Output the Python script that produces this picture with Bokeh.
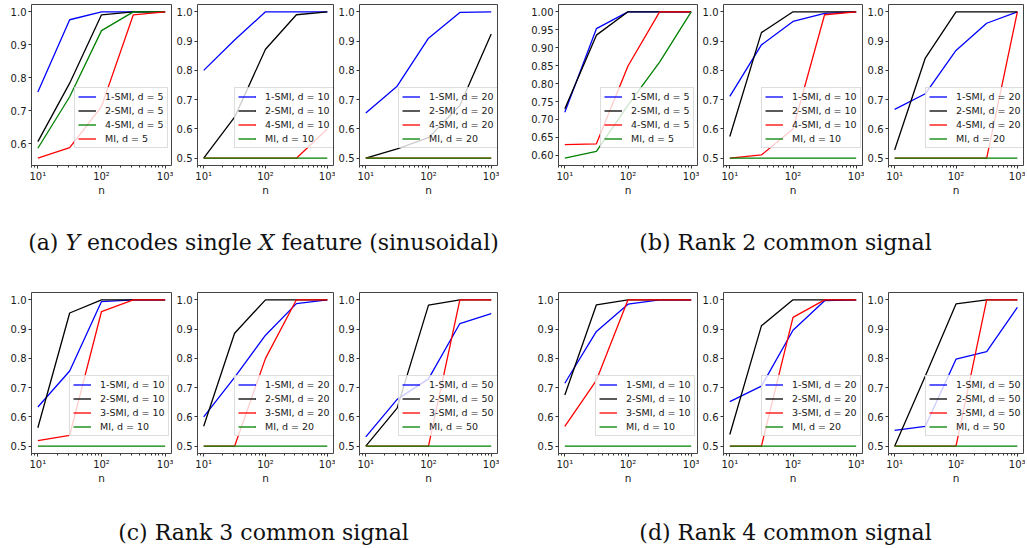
import math
from bokeh.plotting import figure
from bokeh.layouts import row, column
from bokeh.models import Range1d, FixedTicker, Legend, LegendItem, Div, PrintfTickFormatter
from bokeh.embed import file_html
from bokeh.resources import INLINE

# ---------------- data ----------------
n = [10, 31.62, 100, 316.2, 1000]
x_ticks = [10, 100, 1000]
x_tick_labels = ["10¹", "10²", "10³"]

# (a) Y encodes single X feature (sinusoidal)
a_d5_smi1 = [0.757, 0.976, 1.0, 1.0, 1.0]
a_d5_smi2 = [0.607, 0.784, 0.991, 1.0, 1.0]
a_d5_smi4 = [0.587, 0.743, 0.943, 1.0, 1.0]
a_d5_mi = [0.557, 0.589, 0.713, 0.991, 1.0]

a_d10_smi1 = [0.80, 0.904, 1.0, 1.0, 1.0]
a_d10_smi2 = [0.50, 0.64, 0.872, 0.99, 1.0]
a_d10_smi4 = [0.50, 0.50, 0.50, 0.50, 0.60]
a_d10_mi = [0.5, 0.5, 0.5, 0.5, 0.5]

a_d20_smi1 = [0.654, 0.746, 0.91, 0.998, 1.0]
a_d20_smi2 = [0.50, 0.532, 0.57, 0.68, 0.924]
a_d20_smi4 = [0.5, 0.5, 0.5, 0.5, 0.5]
a_d20_mi = [0.5, 0.5, 0.5, 0.5, 0.5]

# (b) Rank 2 common signal
b_d5_smi1 = [0.72, 0.953, 1.0, 1.0, 1.0]
b_d5_smi2 = [0.73, 0.935, 1.0, 1.0, 1.0]
b_d5_smi4 = [0.63, 0.632, 0.849, 1.0, 1.0]
b_d5_mi = [0.592, 0.611, 0.74, 0.86, 1.0]

b_d10_smi1 = [0.711, 0.887, 0.967, 0.995, 1.0]
b_d10_smi2 = [0.574, 0.929, 1.0, 1.0, 1.0]
b_d10_smi4 = [0.5, 0.511, 0.60, 0.99, 1.0]
b_d10_mi = [0.5, 0.5, 0.5, 0.5, 0.5]

b_d20_smi1 = [0.667, 0.72, 0.868, 0.961, 1.0]
b_d20_smi2 = [0.528, 0.842, 1.0, 1.0, 1.0]
b_d20_smi4 = [0.5, 0.5, 0.5, 0.5, 1.0]
b_d20_mi = [0.5, 0.5, 0.5, 0.5, 0.5]

# (c) Rank 3 common signal
c_d10_smi1 = [0.634, 0.757, 0.994, 1.0, 1.0]
c_d10_smi2 = [0.563, 0.955, 1.0, 1.0, 1.0]
c_d10_smi3 = [0.519, 0.537, 0.96, 1.0, 1.0]
c_d10_mi = [0.5, 0.5, 0.5, 0.5, 0.5]

c_d20_smi1 = [0.60, 0.735, 0.879, 0.987, 1.0]
c_d20_smi2 = [0.568, 0.886, 1.0, 1.0, 1.0]
c_d20_smi3 = [0.5, 0.5, 0.80, 1.0, 1.0]
c_d20_mi = [0.5, 0.5, 0.5, 0.5, 0.5]

c_d50_smi1 = [0.532, 0.66, 0.73, 0.919, 0.953]
c_d50_smi2 = [0.5, 0.63, 0.982, 1.0, 1.0]
c_d50_smi3 = [0.5, 0.5, 0.5, 1.0, 1.0]
c_d50_mi = [0.5, 0.5, 0.5, 0.5, 0.5]

# (d) Rank 4 common signal
d_d10_smi1 = [0.715, 0.892, 0.985, 1.0, 1.0]
d_d10_smi2 = [0.675, 0.983, 1.0, 1.0, 1.0]
d_d10_smi3 = [0.568, 0.725, 1.0, 1.0, 1.0]
d_d10_mi = [0.5, 0.5, 0.5, 0.5, 0.5]

d_d20_smi1 = [0.652, 0.705, 0.896, 0.997, 1.0]
d_d20_smi2 = [0.54, 0.911, 1.0, 1.0, 1.0]
d_d20_smi3 = [0.5, 0.5, 0.94, 1.0, 1.0]
d_d20_mi = [0.5, 0.5, 0.5, 0.5, 0.5]

d_d50_smi1 = [0.554, 0.568, 0.797, 0.823, 0.974]
d_d50_smi2 = [0.5, 0.74, 0.986, 1.0, 1.0]
d_d50_smi3 = [0.5, 0.5, 0.5, 1.0, 1.0]
d_d50_mi = [0.5, 0.5, 0.5, 0.5, 0.5]

yticks_a5 = [0.6, 0.7, 0.8, 0.9, 1.0]
yticks_b5 = [0.60, 0.65, 0.70, 0.75, 0.80, 0.85, 0.90, 0.95, 1.00]
yticks_std = [0.5, 0.6, 0.7, 0.8, 0.9, 1.0]

caption_a = ["(a) ", "Y", " encodes single ", "X", " feature (sinusoidal)"]
caption_b = "(b) Rank 2 common signal"
caption_c = "(c) Rank 3 common signal"
caption_d = "(d) Rank 4 common signal"

BLUE, BLACK, RED, GREEN = "#0000ff", "#000000", "#ff0000", "#008000"

top_panels = [
    (5, [("1-SMI", BLUE, a_d5_smi1), ("2-SMI", BLACK, a_d5_smi2), ("4-SMI", GREEN, a_d5_smi4), ("MI", RED, a_d5_mi)], yticks_a5, "%.1f"),
    (10, [("1-SMI", BLUE, a_d10_smi1), ("2-SMI", BLACK, a_d10_smi2), ("4-SMI", RED, a_d10_smi4), ("MI", GREEN, a_d10_mi)], yticks_std, "%.1f"),
    (20, [("1-SMI", BLUE, a_d20_smi1), ("2-SMI", BLACK, a_d20_smi2), ("4-SMI", RED, a_d20_smi4), ("MI", GREEN, a_d20_mi)], yticks_std, "%.1f"),
    (5, [("1-SMI", BLUE, b_d5_smi1), ("2-SMI", BLACK, b_d5_smi2), ("4-SMI", RED, b_d5_smi4), ("MI", GREEN, b_d5_mi)], yticks_b5, "%.2f"),
    (10, [("1-SMI", BLUE, b_d10_smi1), ("2-SMI", BLACK, b_d10_smi2), ("4-SMI", RED, b_d10_smi4), ("MI", GREEN, b_d10_mi)], yticks_std, "%.1f"),
    (20, [("1-SMI", BLUE, b_d20_smi1), ("2-SMI", BLACK, b_d20_smi2), ("4-SMI", RED, b_d20_smi4), ("MI", GREEN, b_d20_mi)], yticks_std, "%.1f"),
]
bottom_panels = [
    (10, [("1-SMI", BLUE, c_d10_smi1), ("2-SMI", BLACK, c_d10_smi2), ("3-SMI", RED, c_d10_smi3), ("MI", GREEN, c_d10_mi)], yticks_std, "%.1f"),
    (20, [("1-SMI", BLUE, c_d20_smi1), ("2-SMI", BLACK, c_d20_smi2), ("3-SMI", RED, c_d20_smi3), ("MI", GREEN, c_d20_mi)], yticks_std, "%.1f"),
    (50, [("1-SMI", BLUE, c_d50_smi1), ("2-SMI", BLACK, c_d50_smi2), ("3-SMI", RED, c_d50_smi3), ("MI", GREEN, c_d50_mi)], yticks_std, "%.1f"),
    (10, [("1-SMI", BLUE, d_d10_smi1), ("2-SMI", BLACK, d_d10_smi2), ("3-SMI", RED, d_d10_smi3), ("MI", GREEN, d_d10_mi)], yticks_std, "%.1f"),
    (20, [("1-SMI", BLUE, d_d20_smi1), ("2-SMI", BLACK, d_d20_smi2), ("3-SMI", RED, d_d20_smi3), ("MI", GREEN, d_d20_mi)], yticks_std, "%.1f"),
    (50, [("1-SMI", BLUE, d_d50_smi1), ("2-SMI", BLACK, d_d50_smi2), ("3-SMI", RED, d_d50_smi3), ("MI", GREEN, d_d50_mi)], yticks_std, "%.1f"),
]

# ---------------- layout constants ----------------
BORDER_TOP = 4
FRAME_H = 161
BORDER_BOTTOM = 38
FIG_H = BORDER_TOP + FRAME_H + BORDER_BOTTOM
BORDER_RIGHT = 2
left_borders = [31, 21, 21, 59, 23, 20]
frame_widths = [140, 139, 141, 139, 140, 139]
AXIS_COL = "#333333"
TEXT_COL = "#1a1a1a"


def make_panel(d, series, yticks, fmt, lb, fw):
    allv = [v for s in series for v in s[2]]
    lo, hi = min(allv), max(allv)
    pad = 0.05 * (hi - lo)
    lxlo, lxhi = math.log10(min(n)), math.log10(max(n))
    xp = 0.05 * (lxhi - lxlo)
    p = figure(width=lb + fw + BORDER_RIGHT, height=FIG_H, x_axis_type="log",
               x_range=Range1d(10 ** (lxlo - xp), 10 ** (lxhi + xp)),
               y_range=Range1d(lo - pad, hi + pad),
               output_backend="svg", toolbar_location=None,
               min_border_left=lb, min_border_right=BORDER_RIGHT,
               min_border_top=BORDER_TOP, min_border_bottom=BORDER_BOTTOM)
    p.grid.visible = False
    p.outline_line_color = "#444444"
    p.outline_line_width = 1
    p.background_fill_color = "white"
    p.border_fill_color = "white"

    items = []
    for label, color, vals in series:
        r = p.line(n, vals, line_color=color, line_width=1.3)
        items.append(LegendItem(label=f"{label}, d = {d}", renderers=[r]))

    for ax in p.axis:
        ax.axis_line_color = None
        ax.major_tick_out = 3
        ax.major_tick_in = 0
        ax.minor_tick_out = 2
        ax.minor_tick_in = 0
        ax.major_tick_line_color = AXIS_COL
        ax.minor_tick_line_color = AXIS_COL
        ax.major_label_text_font = "DejaVu Sans"
        ax.major_label_text_font_size = "10px"
        ax.major_label_text_color = TEXT_COL
        ax.major_label_standoff = 2

    minor = [m * 10 ** e for e in range(0, 4) for m in range(2, 10)]
    p.xaxis.ticker = FixedTicker(ticks=x_ticks, minor_ticks=minor)
    p.xaxis.major_label_overrides = dict(zip(x_ticks, x_tick_labels))
    p.xaxis.axis_label = "n"
    p.xaxis.axis_label_text_font = "DejaVu Sans"
    p.xaxis.axis_label_text_font_size = "10.5px"
    p.xaxis.axis_label_text_font_style = "normal"
    p.xaxis.axis_label_text_color = TEXT_COL
    p.xaxis.axis_label_standoff = -1

    p.yaxis.ticker = FixedTicker(ticks=yticks)
    p.yaxis.formatter = PrintfTickFormatter(format=fmt)
    p.yaxis.minor_tick_line_color = None

    longest = max(len(it.label.value) for it in items)
    lw = 33 + 4.95 * longest
    legend = Legend(items=items, location=(int(fw - lw - 4), 17),
                    label_text_font="DejaVu Sans", label_text_font_size="9.5px",
                    label_text_color=TEXT_COL,
                    glyph_width=18, glyph_height=11, label_height=11,
                    label_standoff=9, spacing=3, padding=3, margin=0,
                    border_line_color="#bbbbbb", border_line_width=1,
                    background_fill_color="white", background_fill_alpha=0.8)
    p.add_layout(legend)
    return p


def caption(html, width, height, pad_top, pad_left):
    style = (f"width:{width}px;box-sizing:border-box;padding-top:{pad_top}px;"
             f"padding-left:{pad_left}px;text-align:center;"
             "font-family:'DejaVu Serif',serif;font-size:22px;line-height:22px;color:#111;"
             "white-space:nowrap;")
    return Div(text=f'<div style="{style}">{html}</div>', width=width, height=height,
               margin=0)


top_figs = [make_panel(d, s, yt, f, lb, fw)
            for (d, s, yt, f), lb, fw in zip(top_panels, left_borders, frame_widths)]
bottom_figs = [make_panel(d, s, yt, f, lb, fw)
               for (d, s, yt, f), lb, fw in zip(bottom_panels, left_borders, frame_widths)]

left_w = sum(lb + fw + BORDER_RIGHT for lb, fw in zip(left_borders[:3], frame_widths[:3]))
right_w = sum(lb + fw + BORDER_RIGHT for lb, fw in zip(left_borders[3:], frame_widths[3:]))

html_a = (caption_a[0] + "<i>" + caption_a[1] + "</i>" + caption_a[2]
          + "<i>" + caption_a[3] + "</i>" + caption_a[4])

cap_row1 = row(caption(html_a, left_w, 85, 29, 28), caption(caption_b, right_w, 85, 29, 47))
cap_row2 = row(caption(caption_c, left_w, 55, 31, 28), caption(caption_d, right_w, 55, 31, 47))

layout = column(row(*top_figs), cap_row1, row(*bottom_figs), cap_row2)

open("out.html", "w").write(file_html(layout, INLINE))
